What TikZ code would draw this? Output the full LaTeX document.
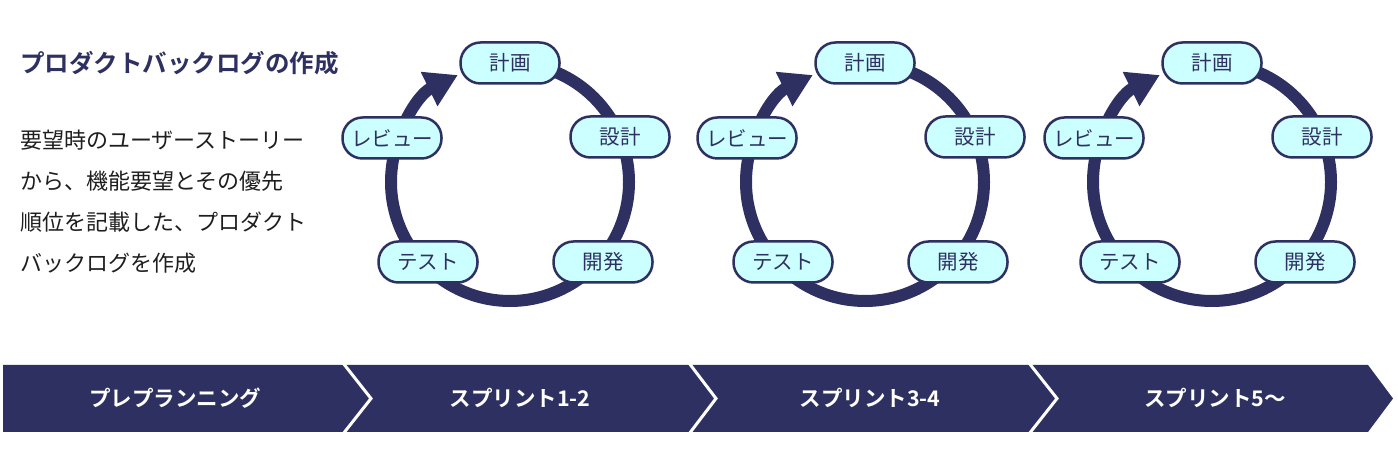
\documentclass[tikz,border=0pt]{standalone}
\usepackage{fontspec}
\setmainfont{Noto Sans CJK JP}[BoldFont={Noto Sans CJK JP Bold}]
\usetikzlibrary{arrows.meta}
\definecolor{navy}{HTML}{2E3061}
\definecolor{pale}{HTML}{CCFFFF}
\definecolor{ink}{HTML}{1E1E1E}
\begin{document}
\begin{tikzpicture}[x=1pt,y=1pt,
  stage/.style={draw=navy, line width=2.5pt, fill=pale, rounded corners=20pt,
    minimum width=99pt, minimum height=41pt, inner sep=0pt,
    font=\fontsize{20.5}{20.5}\selectfont, text=navy},
  ring/.style={draw=navy, line width=12pt},
  phase/.style={text=white, font=\bfseries\fontsize{21.5}{21.5}\selectfont, inner sep=0pt},
  sep/.style={draw=white, line width=3pt}]
\useasboundingbox (0,0) rectangle (1398,462);

% title and description
\node[anchor=west, inner sep=0pt, text=navy, font=\bfseries\fontsize{24.5}{24.5}\selectfont] (title) at (20,399) {プロダクトバックログの作成};
\node[anchor=west, inner sep=0pt, text=ink, align=left, font=\fontsize{22}{41}\selectfont] (desc) at (20,260.5)
  {要望時のユーザーストーリー\\から、機能要望とその優先\\順位を記載した、プロダクト\\バックログを作成};

% cycles
\foreach \i/\dx in {1/0,2/355,3/702}{
  \begin{scope}[xshift=\dx pt]
    \coordinate (top\i) at (510,399);
    \draw[ring, -{Triangle[length=32pt,width=36pt]}] (top\i) arc[start angle=90, end angle=-244, radius=119];
    \node[stage] (plan\i) at (510,399) {計画};
    \node[stage] (design\i) at (620,325) {設計};
    \node[stage] (dev\i) at (603,200) {開発};
    \node[stage] (test\i) at (428,200) {テスト};
    \node[stage] (review\i) at (392,324) {レビュー};
  \end{scope}
}

% phase band
\fill[navy] (3,30) -- (3,97) -- (1368,97) -- (1393,63.5) -- (1368,30) -- cycle;
\draw[sep] (343,99) -- (371,63.5) -- (343,28);
\draw[sep] (689,99) -- (716,63.5) -- (689,28);
\draw[sep] (1029,99) -- (1057,63.5) -- (1029,28);
\node[phase] (p0) at (175,64) {プレプランニング};
\node[phase] (p1) at (520,64) {スプリント1-2};
\node[phase] (p2) at (870,64) {スプリント3-4};
\node[phase] (p3) at (1215,64) {スプリント5〜};
\end{tikzpicture}
\end{document}
